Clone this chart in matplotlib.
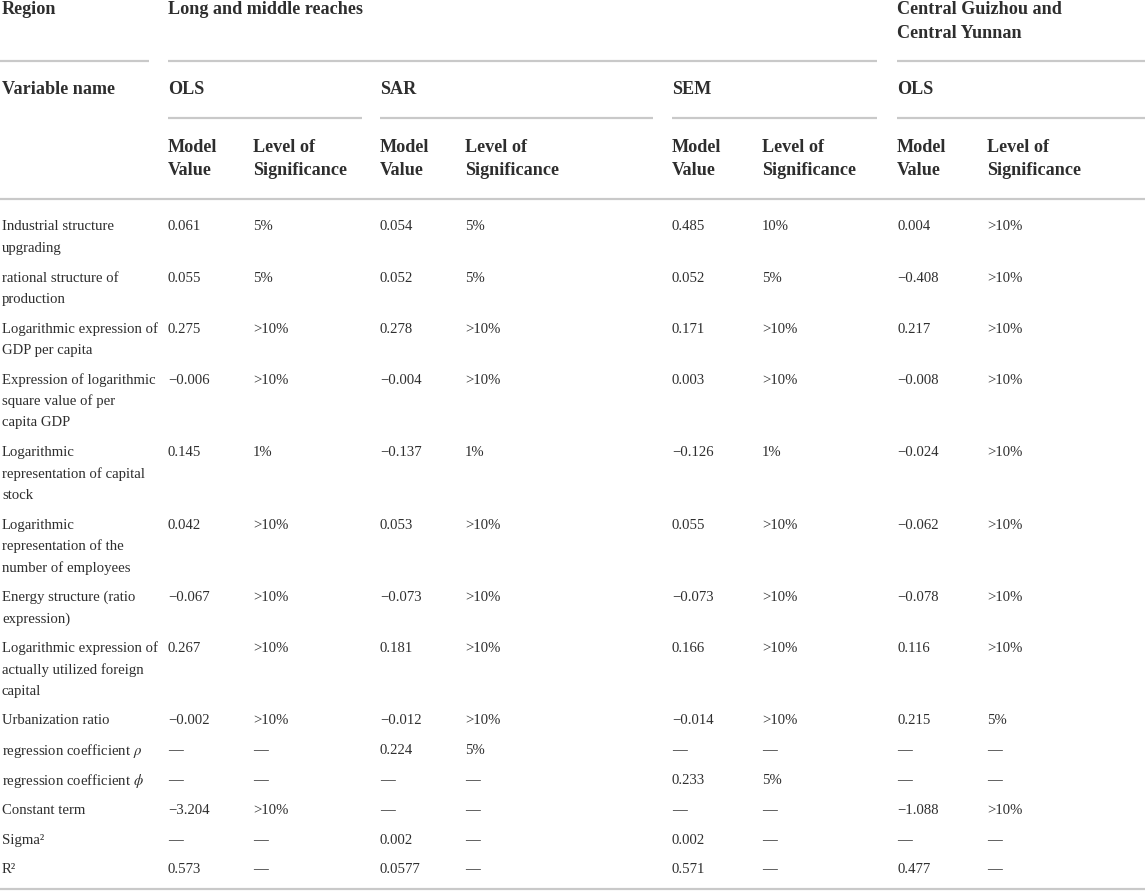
import matplotlib.pyplot as plt

# ---- table content ----
variables = [
    "Industrial structure\nupgrading",
    "rational structure of\nproduction",
    "Logarithmic expression of\nGDP per capita",
    "Expression of logarithmic\nsquare value of per\ncapita GDP",
    "Logarithmic\nrepresentation of capital\nstock",
    "Logarithmic\nrepresentation of the\nnumber of employees",
    "Energy structure (ratio\nexpression)",
    "Logarithmic expression of\nactually utilized foreign\ncapital",
    "Urbanization ratio",
    "regression coefficient $\\rho$",
    "regression coefficient $\\phi$",
    "Constant term",
    "Sigma²",
    "R²",
]

D = "—"
ols_val = ["0.061", "0.055", "0.275", "−0.006", "0.145", "0.042", "−0.067", "0.267", "−0.002", D, D, "−3.204", D, "0.573"]
ols_sig = ["5%", "5%", ">10%", ">10%", "1%", ">10%", ">10%", ">10%", ">10%", D, D, ">10%", D, D]
sar_val = ["0.054", "0.052", "0.278", "−0.004", "−0.137", "0.053", "−0.073", "0.181", "−0.012", "0.224", D, D, "0.002", "0.0577"]
sar_sig = ["5%", "5%", ">10%", ">10%", "1%", ">10%", ">10%", ">10%", ">10%", "5%", D, D, D, D]
sem_val = ["0.485", "0.052", "0.171", "0.003", "−0.126", "0.055", "−0.073", "0.166", "−0.014", D, "0.233", D, "0.002", "0.571"]
sem_sig = ["10%", "5%", ">10%", ">10%", "1%", ">10%", ">10%", ">10%", ">10%", D, "5%", D, D, D]
cg_val = ["0.004", "−0.408", "0.217", "−0.008", "−0.024", "−0.062", "−0.078", "0.116", "0.215", D, D, "−1.088", D, "0.477"]
cg_sig = [">10%", ">10%", ">10%", ">10%", ">10%", ">10%", ">10%", ">10%", "5%", D, D, ">10%", D, D]

columns = [ols_val, ols_sig, sar_val, sar_sig, sem_val, sem_sig, cg_val, cg_sig]
col_x = [168, 253, 380, 465, 672, 762, 897, 987]

plt.rcParams['font.family'] = ['Liberation Serif', 'DejaVu Serif']
plt.rcParams['mathtext.fontset'] = 'stix'

W, H = 1145, 894
fig = plt.figure(figsize=(W / 100, H / 100), dpi=100)
ax = fig.add_axes([0, 0, 1, 1])
ax.set_xlim(0, W)
ax.set_ylim(H, 0)
ax.axis('off')

txt_color = '#2e2e2e'
line_color = '#c9c9c9'
head_size = 13.1
body_size = 10.6
line_step = 21.3
row_gap = 29.8


def put(x, y, s, bold=False):
    size = head_size if bold else body_size
    step = 23.5 if bold else line_step
    for i, part in enumerate(s.split("\n")):
        ax.text(x, y + i * step, part, ha='left', va='center', fontsize=size,
                fontweight='bold' if bold else 'normal', color=txt_color)


def hline(x0, x1, y):
    ax.plot([x0, x1], [y, y], color=line_color, lw=1.6, solid_capstyle='butt')


# ---- header ----
put(2, 10, "Region", bold=True)
put(168, 10, "Long and middle reaches", bold=True)
put(897, 10, "Central Guizhou and\nCentral Yunnan", bold=True)
hline(0, 149, 61)
hline(168, 877, 61)
hline(897, W, 61)

put(2, 90, "Variable name", bold=True)
for x, name in zip([168, 380, 672, 897], ["OLS", "SAR", "SEM", "OLS"]):
    put(x, 90, name, bold=True)
hline(168, 362, 118)
hline(380, 653, 118)
hline(672, 877, 118)
hline(897, W, 118)

for i, x in enumerate(col_x):
    put(x, 147, "Model\nValue" if i % 2 == 0 else "Level of\nSignificance", bold=True)
hline(0, W, 199)

# ---- body ----
y = 227
for r, var in enumerate(variables):
    put(2, y, var)
    for x, col in zip(col_x, columns):
        put(x, y, col[r])
    y += (var.count("\n")) * line_step + row_gap

hline(0, W, 889)

fig.savefig("out.png", dpi=100)
